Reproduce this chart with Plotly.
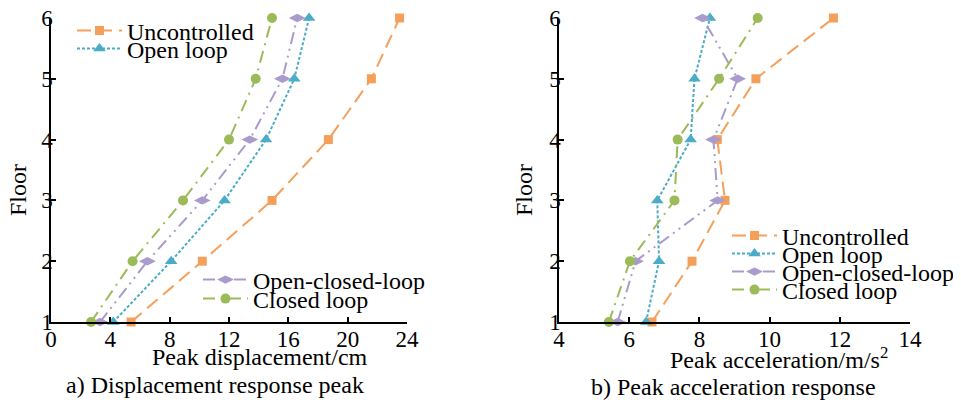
import plotly.graph_objects as go

W, H = 961, 403
OFF = 8  # page body margin offset

floors = [1, 2, 3, 4, 5, 6]
series_names = ["Uncontrolled", "Open loop", "Open-closed-loop", "Closed loop"]

disp_uncontrolled = [5.4, 10.2, 14.9, 18.7, 21.6, 23.5]
disp_open = [4.2, 8.1, 11.7, 14.5, 16.4, 17.4]
disp_open_closed = [3.3, 6.5, 10.2, 13.4, 15.6, 16.6]
disp_closed = [2.7, 5.5, 8.9, 12.0, 13.8, 14.9]

acc_uncontrolled = [6.65, 7.79, 8.73, 8.51, 9.61, 11.82]
acc_open = [6.48, 6.85, 6.80, 7.75, 7.86, 8.30]
acc_open_closed = [5.67, 6.18, 8.52, 8.40, 9.09, 8.09]
acc_closed = [5.42, 6.02, 7.29, 7.38, 8.56, 9.66]

disp_ticks = [0, 4, 8, 12, 16, 20, 24]
acc_ticks = [4, 6, 8, 10, 12, 14]

colors = ["#F5A05A", "#4AACC6", "#A99BCB", "#9BBB59"]
dashes = ["14px,7px", "3px,2px", "12px,5px,2px,5px,2px,5px", "12px,6px,2px,6px"]
symbols = ["square", "triangle-up", "diamond-wide", "circle"]
msizes = [9, 11, 12, 10]

FONT = "Liberation Serif, Times New Roman, serif"

def px_x(p):
    return (p - OFF) / W

def px_y(p):
    return (H - (p - OFF)) / H

fig = go.Figure()

left_data = [disp_uncontrolled, disp_open, disp_open_closed, disp_closed]
right_data = [acc_uncontrolled, acc_open, acc_open_closed, acc_closed]
left_legends = ["legend", "legend2", "legend3", "legend4"]
right_legends = ["legend5", "legend6", "legend7", "legend8"]

for i, name in enumerate(series_names):
    fig.add_trace(go.Scatter(
        x=left_data[i], y=floors, name=name, mode="lines+markers",
        line=dict(color=colors[i], width=2, dash=dashes[i]),
        marker=dict(symbol=symbols[i], size=msizes[i], color=colors[i]),
        xaxis="x", yaxis="y", legend=left_legends[i], cliponaxis=False,
        showlegend=True,
    ))
for i, name in enumerate(series_names):
    fig.add_trace(go.Scatter(
        x=right_data[i], y=floors, name=name, mode="lines+markers",
        line=dict(color=colors[i], width=2, dash=dashes[i]),
        marker=dict(symbol=symbols[i], size=msizes[i], color=colors[i]),
        xaxis="x2", yaxis="y2", legend=right_legends[i], cliponaxis=False,
        showlegend=True,
    ))

ydom = [px_y(322), px_y(18)]

axis_common = dict(
    showline=True, linecolor="black", linewidth=1.5, mirror=False,
    ticks="inside", ticklen=5, tickwidth=1.5, tickcolor="black",
    showgrid=False, zeroline=False, ticklabeloverflow="allow",
    tickfont=dict(family=FONT, size=23, color="black"),
)

layout = dict(
    width=W, height=H,
    showlegend=True,
    margin=dict(l=0, r=0, t=0, b=0, autoexpand=False),
    paper_bgcolor="white", plot_bgcolor="white",
    font=dict(family=FONT, size=24, color="black"),
    xaxis=dict(domain=[px_x(51), px_x(407)], range=[0, 24], tickvals=disp_ticks,
               anchor="y", automargin=False, ticklabelstandoff=-4, **axis_common),
    yaxis=dict(domain=ydom, range=[1, 6], tickvals=floors, anchor="x",
               automargin=False, ticklabelstandoff=-8, **axis_common),
    xaxis2=dict(domain=[px_x(559), px_x(910)], range=[4, 14], tickvals=acc_ticks,
                anchor="y2", automargin=False, ticklabelstandoff=-4, **axis_common),
    yaxis2=dict(domain=ydom, range=[1, 6], tickvals=floors, anchor="x2",
                automargin=False, ticklabelstandoff=-8, **axis_common),
)

legend_pos = {
    "legend": (72, 31), "legend2": (72, 49),
    "legend3": (198, 280), "legend4": (198, 299),
    "legend5": (727, 236), "legend6": (727, 254),
    "legend7": (727, 272), "legend8": (727, 290),
}
for key, (lx, ly) in legend_pos.items():
    layout[key] = dict(
        x=px_x(lx), y=px_y(ly), xanchor="left", yanchor="middle",
        bgcolor="rgba(0,0,0,0)", borderwidth=0, visible=True,
        font=dict(family=FONT, size=24, color="black"),
        itemwidth=45,
    )

fig.update_layout(**layout)

annots = [
    dict(text="Floor", x=px_x(18), y=px_y(190), textangle=-90),
    dict(text="Floor", x=px_x(524), y=px_y(190), textangle=-90),
    dict(text="Peak displacement/cm", x=px_x(260), y=px_y(357)),
    dict(text="a) Displacement response peak", x=px_x(215), y=px_y(385)),
    dict(text="Peak acceleration/m/s<sup>2</sup>", x=px_x(779), y=px_y(358)),
    dict(text="b) Peak acceleration response", x=px_x(733), y=px_y(387)),
]
for a in annots:
    fig.add_annotation(xref="paper", yref="paper", showarrow=False,
                       xanchor="center", yanchor="middle",
                       font=dict(family=FONT, size=24, color="black"), **a)

fig.write_html("out.html")
